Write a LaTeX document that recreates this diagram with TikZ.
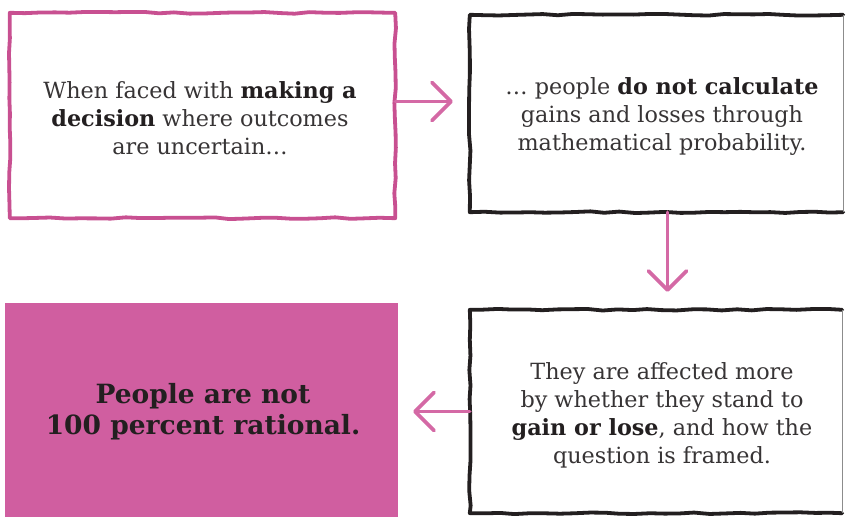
\documentclass[tikz,border=0pt]{standalone}
\usepackage{fontspec}
\setmainfont{DejaVu Serif}
\usetikzlibrary{arrows.meta,decorations.pathmorphing}
\definecolor{pinkline}{RGB}{200,80,145}
\definecolor{pinkarrow}{RGB}{212,105,165}
\definecolor{pinkfill}{RGB}{208,94,160}
\definecolor{inkc}{RGB}{35,31,32}
\definecolor{lightink}{RGB}{55,52,53}
\tikzset{
  txt/.style={font=\fontsize{22.3}{28}\selectfont, text=lightink, align=center, inner sep=0pt},
  rough/.style={decorate, decoration={random steps, segment length=15pt, amplitude=0.9pt}, line join=round, line cap=round},
  pinkborder/.style={rough, draw=pinkline, line width=3.8pt},
  blackborder/.style={rough, draw=inkc, line width=3.8pt},
  faintborder/.style={draw=black!45, line width=1.3pt},
  arr/.style={draw=pinkarrow, line width=3.6pt, line cap=round, -{Straight Barb[length=19pt, width=38pt, line cap=round, line join=round]}},
}
\newcommand{\hl}[1]{\textcolor{inkc}{\textbf{#1}}}
\begin{document}
\begin{tikzpicture}[x=1pt, y=-1pt]
\useasboundingbox (0,0) rectangle (847,522);
\fill[white] (0,0) rectangle (847,522);

% box 1
\node[minimum width=385pt, minimum height=205pt, inner sep=0pt] (b1) at (202.5,115.5) {};
\draw[pinkborder] (b1.north west) -- (b1.north east) -- (b1.south east) -- (b1.south west) -- cycle;
\node[txt] (t1) at (200,118) {When faced with \hl{making a}\\\hl{decision} where outcomes\\are uncertain\dots};

% box 2
\node[minimum width=373pt, minimum height=197pt, inner sep=0pt] (b2) at (656.5,113.5) {};
\draw[blackborder] (b2.north east) -- (b2.north west) -- (b2.south west) -- (b2.south east);
\draw[faintborder] (b2.north east) -- (b2.south east);
\node[txt] (t2) at (662,117) {\dots\ people \hl{do not calculate}\\gains and losses through\\mathematical probability.};

% box 3
\node[minimum width=372pt, minimum height=203pt, inner sep=0pt] (b3) at (656,411.5) {};
\draw[blackborder] (b3.north east) -- (b3.north west) -- (b3.south west) -- (b3.south east);
\draw[faintborder] (b3.north east) -- (b3.south east);
\node[txt] (t3) at (662,415) {They are affected more\\by whether they stand to\\\hl{gain or lose}, and how the\\question is framed.};

% box 4
\node[fill=pinkfill, minimum width=393pt, minimum height=214pt, inner sep=0pt] (b4) at (201.5,410) {};
\node[txt, text=inkc, font=\fontsize{26.5}{31}\bfseries\selectfont] (t4) at (203,412) {People are not\\100 percent rational.};

% arrows
\coordinate (a1s) at ([yshift=14pt]b1.east);
\coordinate (a1e) at ([xshift=-17pt]a1s -| b2.west);
\draw[arr] (a1s) -- (a1e);
\coordinate (a2s) at ([xshift=11pt]b2.south);
\coordinate (a2e) at ([yshift=18pt]a2s |- b3.north);
\draw[arr] (a2s) -- (a2e);
\coordinate (a3e) at ([xshift=15pt]b3.west -| b4.east);
\draw[arr] (b3.west) -- (a3e);
\end{tikzpicture}
\end{document}
